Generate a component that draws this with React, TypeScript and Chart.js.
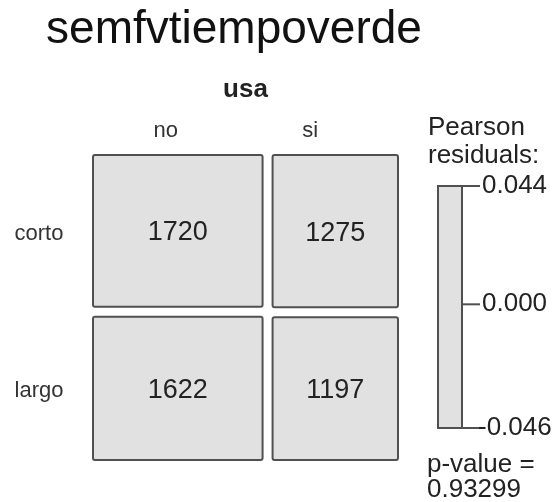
import React, { useEffect, useRef } from "react";
import { Chart, registerables } from "chart.js";

Chart.register(...registerables);

const title = "semfvtiempoverde";
const colVar = "usa";
const colLevels = ["no", "si"];
const rowLevels = ["corto", "largo"];
// counts per row level, one value per column level
const cortoCounts = [1720, 1275];
const largoCounts = [1622, 1197];
const residualTicks = [0.044, 0.0, -0.046];
const residualMax = 0.044;
const residualMin = -0.046;
const pValueText = "0.93299";

const FONT = "'Liberation Sans', Arial, Helvetica, sans-serif";
const FILL = "#e1e1e1";
const BORDER = "#505050";

export default function App() {
  const ref = useRef<HTMLCanvasElement | null>(null);

  useEffect(() => {
    if (!ref.current) return;
    const counts = [cortoCounts, largoCounts];
    const total = counts.flat().reduce((a, b) => a + b, 0);
    const colTotals = colLevels.map((_, j) => counts.reduce((s, r) => s + r[j], 0));
    const gap = 10 / 305;

    const cells: { x0: number; x1: number; y0: number; y1: number; v: number }[] = [];
    let xs = 0;
    colLevels.forEach((_, j) => {
      const w = (1 - gap) * (colTotals[j] / total);
      let ys = 0;
      rowLevels.forEach((_, i) => {
        const h = (1 - gap) * (counts[i][j] / colTotals[j]);
        cells.push({ x0: xs, x1: xs + w, y0: ys, y1: ys + h, v: counts[i][j] });
        ys += h + gap;
      });
      xs += w + gap;
    });

    const colLabelShift = [-12, -25];

    const mosaic = {
      id: "mosaic",
      afterDraw(chart: any) {
        const ctx = chart.ctx as CanvasRenderingContext2D;
        const sx = chart.scales.x;
        const sy = chart.scales.y;
        ctx.save();
        // cells
        cells.forEach((c) => {
          const l = sx.getPixelForValue(c.x0);
          const r = sx.getPixelForValue(c.x1);
          const t = sy.getPixelForValue(c.y0);
          const b = sy.getPixelForValue(c.y1);
          ctx.beginPath();
          if ((ctx as any).roundRect) (ctx as any).roundRect(l, t, r - l, b - t, 2);
          else ctx.rect(l, t, r - l, b - t);
          ctx.fillStyle = FILL;
          ctx.fill();
          ctx.lineWidth = 2;
          ctx.strokeStyle = BORDER;
          ctx.stroke();
          ctx.fillStyle = "#222";
          ctx.font = `27px ${FONT}`;
          ctx.textAlign = "center";
          ctx.textBaseline = "middle";
          ctx.fillText(String(c.v), (l + r) / 2, (t + b) / 2 + 2);
        });

        // title
        ctx.fillStyle = "#111";
        ctx.font = `46px ${FONT}`;
        ctx.textAlign = "center";
        ctx.textBaseline = "alphabetic";
        ctx.fillText(title, 234, 43);

        // column variable
        const area = chart.chartArea;
        ctx.font = `bold 26px ${FONT}`;
        ctx.fillStyle = "#222";
        ctx.fillText(colVar, (area.left + area.right) / 2, 97);

        // column labels
        ctx.font = `22px ${FONT}`;
        ctx.fillStyle = "#333";
        colLevels.forEach((lab, j) => {
          const c = cells[j * rowLevels.length];
          const xc = (sx.getPixelForValue(c.x0) + sx.getPixelForValue(c.x1)) / 2;
          ctx.fillText(lab, xc + colLabelShift[j], 137);
        });

        // row labels
        ctx.textAlign = "center";
        ctx.textBaseline = "middle";
        rowLevels.forEach((lab, i) => {
          const c = cells[i];
          const yc = (sy.getPixelForValue(c.y0) + sy.getPixelForValue(c.y1)) / 2;
          ctx.fillText(lab, 39, yc + 3);
        });

        // legend
        const barL = 438, barR = 462, barT = 186, barB = 428;
        const ry = (v: number) => barT + ((residualMax - v) / (residualMax - residualMin)) * (barB - barT);
        ctx.font = `26px ${FONT}`;
        ctx.fillStyle = "#222";
        ctx.textAlign = "left";
        ctx.textBaseline = "alphabetic";
        ctx.fillText("Pearson", 428, 135);
        ctx.fillText("residuals:", 428, 163);
        ctx.fillStyle = FILL;
        ctx.fillRect(barL, ry(residualMax), barR - barL, ry(residualMin) - ry(residualMax));
        ctx.strokeStyle = BORDER;
        ctx.lineWidth = 2;
        ctx.strokeRect(barL, ry(residualMax), barR - barL, ry(residualMin) - ry(residualMax));
        ctx.fillStyle = "#222";
        ctx.textBaseline = "middle";
        residualTicks.forEach((v) => {
          const y = ry(v);
          ctx.beginPath();
          ctx.moveTo(barR, y);
          ctx.lineTo(barR + 18, y);
          ctx.stroke();
          ctx.fillText(v.toFixed(3), barR + (v < 0 ? 16 : 20), y);
        });
        ctx.textBaseline = "alphabetic";
        ctx.fillText("p-value =", 427, 472);
        ctx.fillText(pValueText, 427, 497);
        ctx.restore();
      },
    };

    const chart = new Chart(ref.current, {
      type: "scatter",
      data: { datasets: [{ data: [] }] },
      options: {
        animation: false,
        responsive: true,
        maintainAspectRatio: false,
        layout: { padding: { left: 93, right: 157, top: 155, bottom: 42 } },
        plugins: { legend: { display: false }, title: { display: false }, tooltip: { enabled: false } },
        scales: {
          x: { type: "linear", min: 0, max: 1, display: false },
          y: { type: "linear", min: 0, max: 1, reverse: true, display: false },
        },
      },
      plugins: [mosaic],
    });
    return () => chart.destroy();
  }, []);

  return (
    <div style={{ position: "fixed", left: 0, top: 0, width: 555, height: 502, background: "#fff" }}>
      <canvas ref={ref} />
    </div>
  );
}
